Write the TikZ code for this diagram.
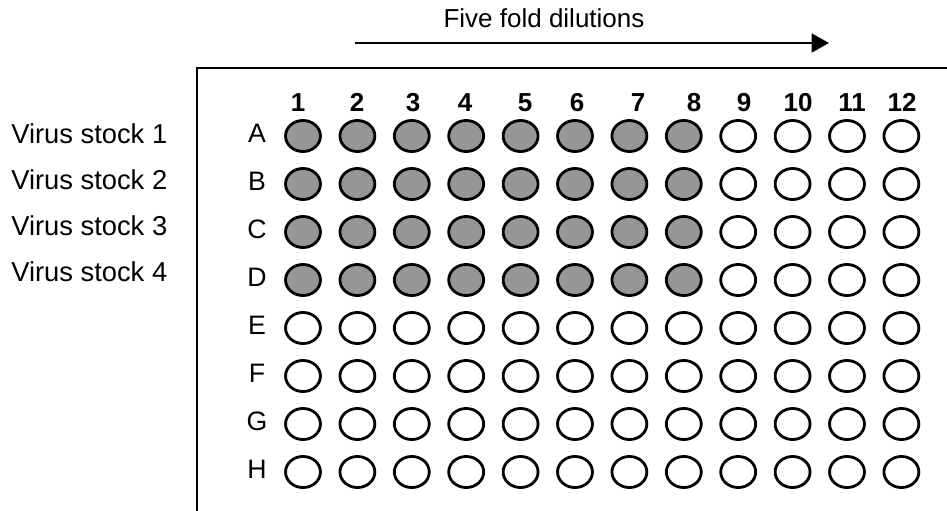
\documentclass[tikz,border=0pt]{standalone}
\usepackage{fontspec}
\setmainfont{Liberation Sans}
\usetikzlibrary{arrows.meta,shapes.geometric}
\definecolor{wellgray}{HTML}{969696}

\tikzset{
  well/.style={ellipse, draw, line width=2.1pt, minimum width=26.2pt, minimum height=23.3pt, inner sep=0pt},
  wellon/.style={fill=wellgray},
  welloff/.style={fill=white},
  collab/.style={font=\fontsize{19.5}{22}\selectfont\bfseries},
  rowlab/.style={font=\fontsize{20}{23}\selectfont},
  stocklab/.style={font=\fontsize{20.5}{23}\selectfont, anchor=west}
}

\begin{document}
\begin{tikzpicture}[x=0.75pt, y=-0.75pt, every node/.style={inner sep=0pt}]
\useasboundingbox (0,0) rectangle (947,511);
% plate outline, runs off the right and bottom edge
\draw[line width=1.75pt] (197,511) -- (197,68) -- (947,68);
% title and dilution arrow
\node[font=\fontsize{19.5}{22}\selectfont] (title) at (544,18) {Five fold dilutions};
\coordinate (arrS) at (355,43);
\coordinate (arrE) at (829,43);
\draw[line width=2.2pt, -{Triangle[length=13pt, width=14pt]}] (arrS) -- (arrE);
% column numbers
\foreach \x [count=\c] in {298,357,413,465,525,577,638,694,744,798,852,902} { \node[collab] (col\c) at (\x,102.5) {\c}; }
% rows of wells, stocks 1-4 in A-D up to column 8
\foreach \r [count=\i] in {A,B,C,D,E,F,G,H} {
  \node[rowlab] (row\r) at (257,{85+48*\i}) {\r};
  \foreach \c in {1,...,12} {
    \ifnum\i<5 \ifnum\c<9 \def\wst{wellon}\else\def\wst{welloff}\fi \else\def\wst{welloff}\fi
    \node[well, \wst] (w\r\c) at ({248.6+54.4*\c},{88+48*\i}) {};
  }
}
% virus stock labels
\foreach \s [count=\i] in {1,2,3,4} { \node[stocklab] (stock\s) at (11,{88+46*\i}) {Virus stock \s}; }
\end{tikzpicture}
\end{document}
